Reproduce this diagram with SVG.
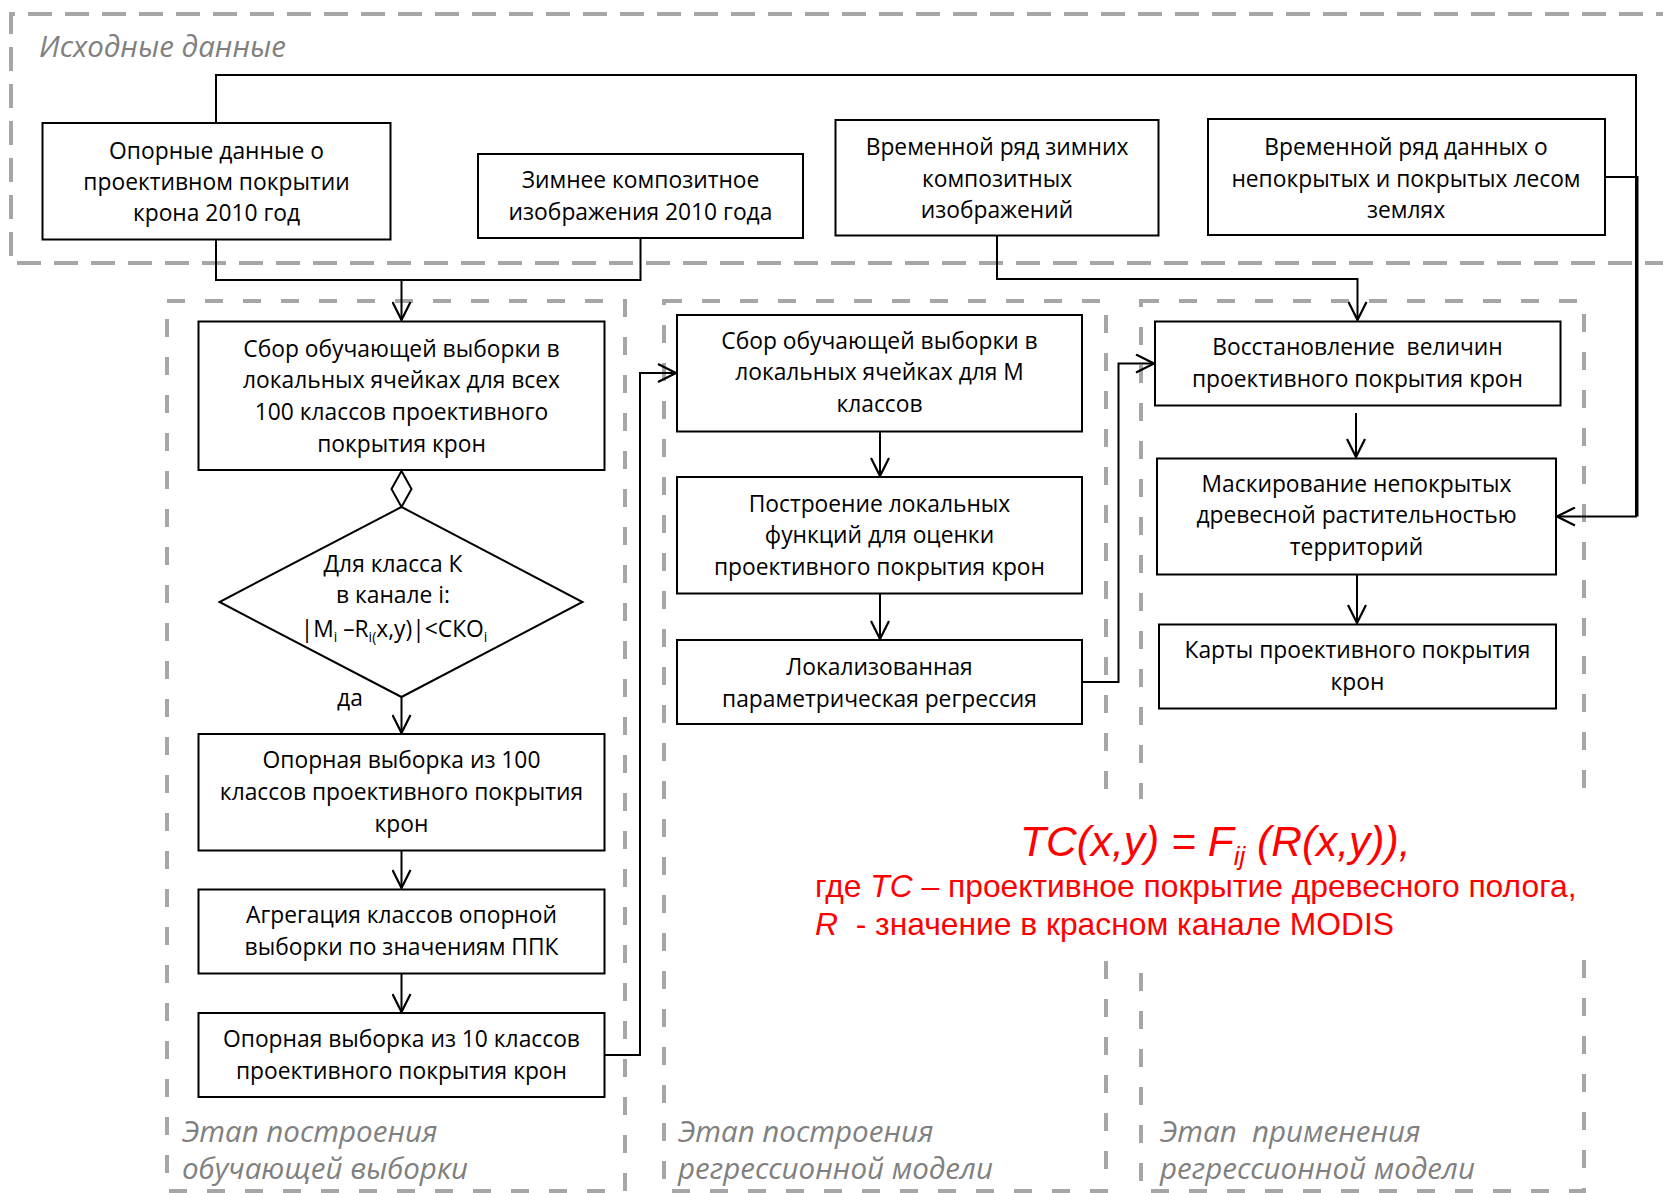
<svg xmlns="http://www.w3.org/2000/svg" width="1663" height="1193" viewBox="0 0 1663 1193">
<defs>
<marker id="arr" viewBox="0 0 20 20" refX="19" refY="10" markerWidth="20" markerHeight="20" markerUnits="userSpaceOnUse" orient="auto">
<path d="M1,1 L19,10 L1,19" fill="none" stroke="#000" stroke-width="2.2"/>
</marker>
<style>
.box{fill:#fff;stroke:#000;stroke-width:2}
.t{font-family:"Open Sans","Noto Sans",sans-serif;font-size:22.8px;fill:#000;text-anchor:middle}
.grp{fill:none;stroke:#a6a6a6;stroke-width:4;stroke-dasharray:18 20}
.grp0{fill:none;stroke:#a6a6a6;stroke-width:4;stroke-dasharray:24 13}
.lbl{font-family:"Open Sans","Noto Sans",sans-serif;font-style:italic;font-size:29.5px;fill:#808080}
.c{fill:none;stroke:#000;stroke-width:2}
.red{font-family:"Liberation Sans",Arial,sans-serif;fill:#ff0000}
</style>
</defs>
<rect width="1663" height="1193" fill="#fff"/>

<g id="groups">
<path class="grp0" d="M1680,14 H11 V263 H1680"/>
<rect class="grp" x="167" y="301" width="458" height="890"/>
<rect class="grp" x="664" y="301" width="442" height="890"/>
<rect class="grp" x="1141" y="301" width="443" height="890"/>
<text class="lbl" x="39" y="57">Исходные данные</text>
<text class="lbl" x="182" y="1142">Этап построения</text>
<text class="lbl" x="182" y="1179">обучающей выборки</text>
<text class="lbl" x="678" y="1142">Этап построения</text>
<text class="lbl" x="678" y="1179">регрессионной модели</text>
<text class="lbl" x="1160" y="1142" xml:space="preserve">Этап  применения</text>
<text class="lbl" x="1160" y="1179">регрессионной модели</text>
</g>

<g id="connectors">
<path class="c" d="M216,123 V75 H1636 V516.5 H1557" marker-end="url(#arr)"/>
<path class="c" d="M1605,177 H1637.5 V516.5"/>
<path class="c" d="M216,239 V280 H640.5 V237"/>
<path class="c" d="M401.5,280 V320" marker-end="url(#arr)"/>
<path class="c" d="M997,235 V279 H1357.5 V320" marker-end="url(#arr)"/>
<path class="c" d="M401.5,697 V733" marker-end="url(#arr)"/>
<path class="c" d="M401.5,851 V888" marker-end="url(#arr)"/>
<path class="c" d="M401.5,974 V1012" marker-end="url(#arr)"/>
<path class="c" d="M605,1055 H640 V373 H676" marker-end="url(#arr)"/>
<path class="c" d="M880,432 V476" marker-end="url(#arr)"/>
<path class="c" d="M880,594 V639" marker-end="url(#arr)"/>
<path class="c" d="M1082,682 H1118.5 V363.5 H1154" marker-end="url(#arr)"/>
<path class="c" d="M1356,413 V457" marker-end="url(#arr)"/>
<path class="c" d="M1357,575 V623" marker-end="url(#arr)"/>
<polygon class="c" points="401.5,471 411.5,489 401.5,507 391.5,489" fill="#fff"/>
<text class="t" x="350" y="706">да</text>
</g>

<g id="n1">
<rect class="box" x="42.5" y="123" width="348" height="116.5"/>
<text class="t" x="216.5" y="159">Опорные данные о</text>
<text class="t" x="216.5" y="190">проективном покрытии</text>
<text class="t" x="216.5" y="221">крона 2010 год</text>
</g>
<g id="n2">
<rect class="box" x="478" y="154" width="325" height="84"/>
<text class="t" x="640.5" y="188">Зимнее композитное</text>
<text class="t" x="640.5" y="220">изображения 2010 года</text>
</g>
<g id="n3">
<rect class="box" x="835.5" y="120" width="323" height="115.5"/>
<text class="t" x="997" y="155">Временной ряд зимних</text>
<text class="t" x="997" y="186.5">композитных</text>
<text class="t" x="997" y="218">изображений</text>
</g>
<g id="n4">
<rect class="box" x="1208" y="119" width="397" height="116"/>
<text class="t" x="1406" y="155">Временной ряд данных о</text>
<text class="t" x="1406" y="186.5">непокрытых и покрытых лесом</text>
<text class="t" x="1406" y="218">землях</text>
</g>

<g id="a1">
<rect class="box" x="198.5" y="321.5" width="406" height="148.5"/>
<text class="t" x="401.5" y="356.5">Сбор обучающей выборки в</text>
<text class="t" x="401.5" y="388">локальных ячейках для всех</text>
<text class="t" x="401.5" y="420">100 классов проективного</text>
<text class="t" x="401.5" y="451.5">покрытия крон</text>
</g>
<g id="dec">
<polygon class="box" points="401.5,507 582.5,602 401.5,697 219.5,602"/>
<text class="t" x="393" y="571.5" font-size="23.5">Для класса К</text>
<text class="t" x="393" y="603" font-size="23.5">в канале i:</text>
<text class="t" x="394" y="637" font-size="23.5">|M<tspan font-size="14" dy="5">i</tspan><tspan dy="-5"> –R</tspan><tspan font-size="14" dy="5">i(</tspan><tspan dy="-5">x,y)|&lt;СКО</tspan><tspan font-size="14" dy="5">i</tspan></text>
</g>
<g id="a2">
<rect class="box" x="198.5" y="734" width="406" height="116.5"/>
<text class="t" x="401.5" y="768">Опорная выборка из 100</text>
<text class="t" x="401.5" y="800">классов проективного покрытия</text>
<text class="t" x="401.5" y="831.5">крон</text>
</g>
<g id="a3">
<rect class="box" x="198.5" y="889.5" width="406" height="84"/>
<text class="t" x="401.5" y="923">Агрегация классов опорной</text>
<text class="t" x="401.5" y="955">выборки по значениям ППК</text>
</g>
<g id="a4">
<rect class="box" x="198.5" y="1013" width="406" height="84"/>
<text class="t" x="401.5" y="1047">Опорная выборка из 10 классов</text>
<text class="t" x="401.5" y="1079">проективного покрытия крон</text>
</g>

<g id="b1">
<rect class="box" x="677" y="315" width="405" height="116.5"/>
<text class="t" x="879.5" y="348.5">Сбор обучающей выборки в</text>
<text class="t" x="879.5" y="380">локальных ячейках для M</text>
<text class="t" x="879.5" y="411.5">классов</text>
</g>
<g id="b2">
<rect class="box" x="677" y="477" width="405" height="116.5"/>
<text class="t" x="879.5" y="511.5">Построение локальных</text>
<text class="t" x="879.5" y="543">функций для оценки</text>
<text class="t" x="879.5" y="575">проективного покрытия крон</text>
</g>
<g id="b3">
<rect class="box" x="677" y="640" width="405" height="84"/>
<text class="t" x="879.5" y="675">Локализованная</text>
<text class="t" x="879.5" y="706.5">параметрическая регрессия</text>
</g>

<g id="c1">
<rect class="box" x="1155" y="321.5" width="405.5" height="84"/>
<text class="t" x="1357.5" y="355" xml:space="preserve">Восстановление  величин</text>
<text class="t" x="1357.5" y="386.5">проективного покрытия крон</text>
</g>
<g id="c2">
<rect class="box" x="1157" y="458.5" width="399" height="116"/>
<text class="t" x="1356.5" y="491.5">Маскирование непокрытых</text>
<text class="t" x="1356.5" y="523">древесной растительностью</text>
<text class="t" x="1356.5" y="555">территорий</text>
</g>
<g id="c3">
<rect class="box" x="1159" y="624.5" width="397" height="84"/>
<text class="t" x="1357.5" y="658">Карты проективного покрытия</text>
<text class="t" x="1357.5" y="690">крон</text>
</g>

<g id="formula">
<rect x="805" y="799" width="795" height="160" fill="#fff"/>
<text class="red" x="1020" y="856" font-size="42.5" font-style="italic">TC(x,y) = F<tspan font-size="26" dy="9">ij</tspan><tspan dy="-9"> (R(x,y)),</tspan></text>
<text class="red" x="815" y="897" font-size="31.8">где <tspan font-style="italic">TC</tspan> – проективное покрытие древесного полога,</text>
<text class="red" x="815" y="935" font-size="31.8" xml:space="preserve"><tspan font-style="italic">R</tspan>  - значение в красном канале MODIS</text>
</g>
</svg>
